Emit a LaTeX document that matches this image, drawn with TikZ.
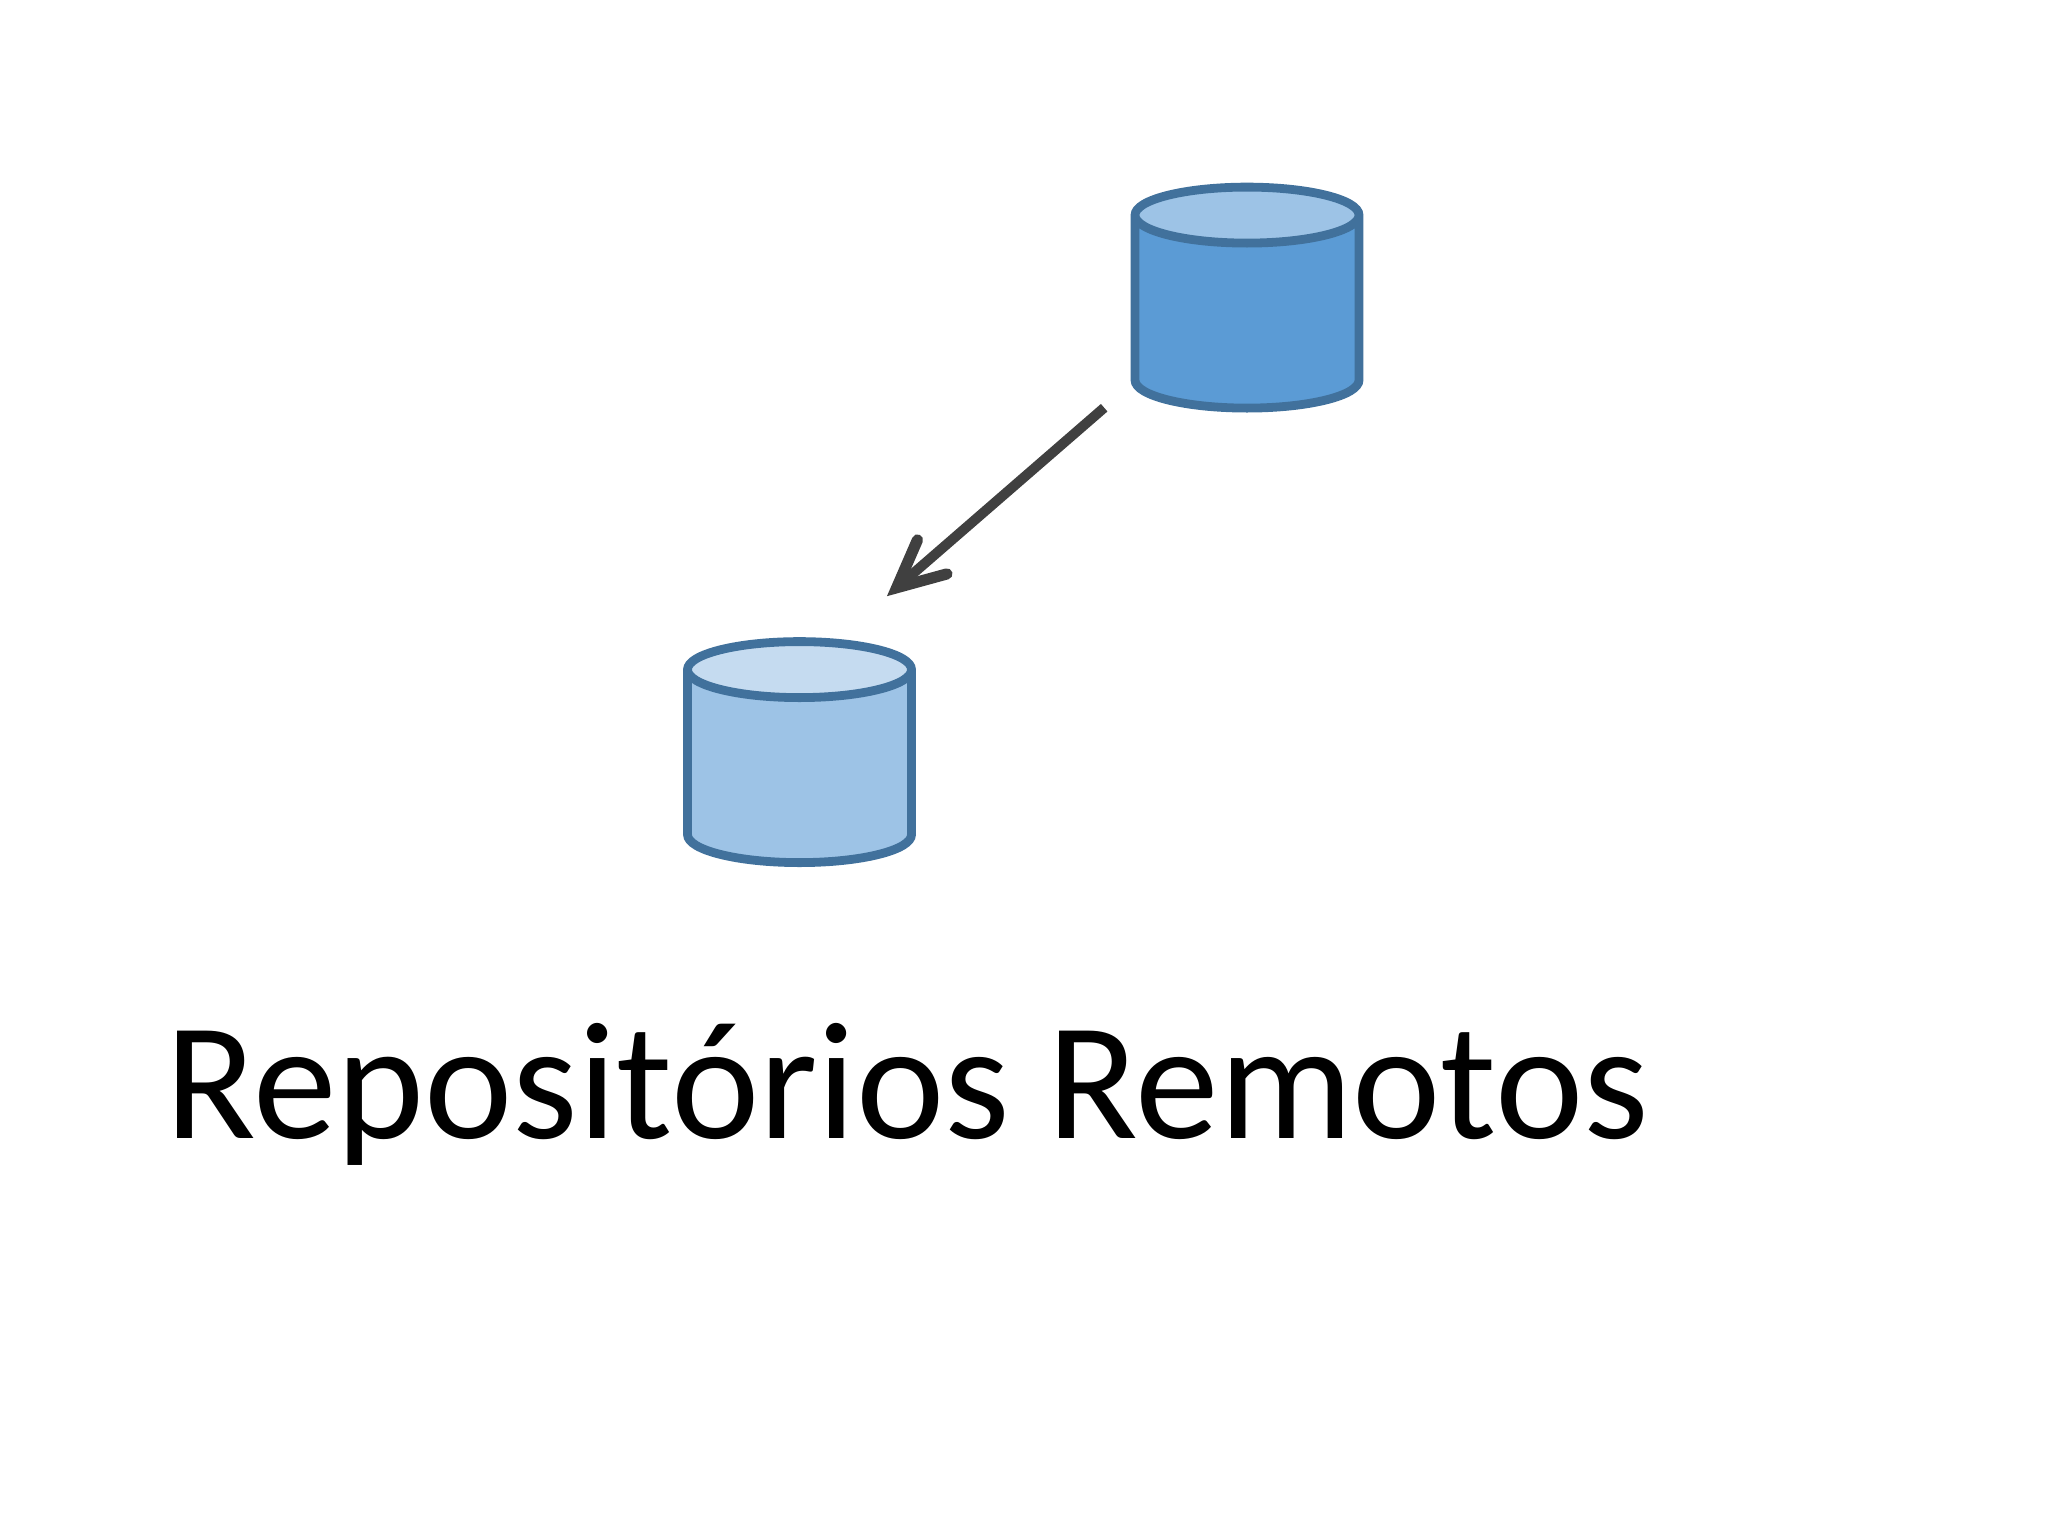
\documentclass[tikz,border=0pt]{standalone}
\usepackage{fontspec}
\setmainfont{Carlito}
\usetikzlibrary{arrows.meta, positioning, shapes.geometric}

\definecolor{repoline}{HTML}{41719C}
\definecolor{linkgray}{HTML}{404040}
\tikzset{
    repo/.style = {cylinder, shape border rotate = 90, aspect = 0.28, draw = repoline, line width = 4.4pt,
        minimum width = 112pt, inner sep = 0pt, text width = 100pt,
        text height = 33.15pt, text depth = 33.15pt, cylinder uses custom fill},
    link/.style = {draw = linkgray, line width = 5pt,
        -{Straight Barb[length = 23.5pt, width = 22.5pt, line width = 5.6pt, line cap = round, line join = miter]}},
}

\begin{document}
\begin{tikzpicture} [x = 0.5pt, y = -0.5pt]
    \useasboundingbox (0, 0) rectangle (2048, 1536);

    \node (remote) [repo, cylinder end fill = {rgb,255:red,157;green,195;blue,230},
        cylinder body fill = {rgb,255:red,91;green,155;blue,213}] at (1247, 313.8) {};
    \node (local) [repo, cylinder end fill = {rgb,255:red,197;green,219;blue,240},
        cylinder body fill = {rgb,255:red,157;green,195;blue,230}] at (799.5, 768.3) {};
    \node (title) [anchor = base west, inner sep = 0pt, font = \fontsize{83.7}{100}\selectfont] at (165, 1138) {Repositórios Remotos};

    \path [link] ([xshift = -27.6pt, yshift = -3.15pt] remote.south west) -- ([xshift = -11.1pt, yshift = 31.25pt] local.north east);
\end{tikzpicture}
\end{document}
